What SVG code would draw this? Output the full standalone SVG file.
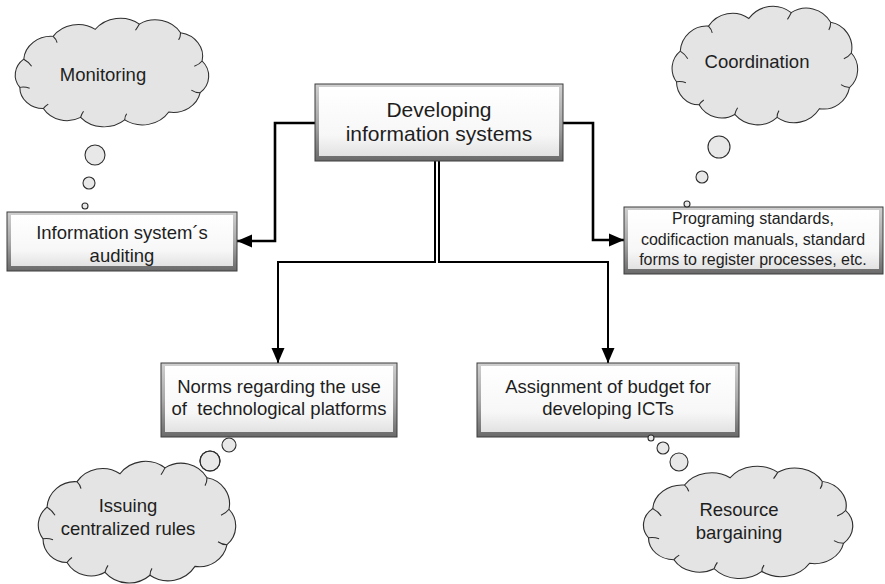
<svg xmlns="http://www.w3.org/2000/svg" xmlns:xlink="http://www.w3.org/1999/xlink" width="885" height="584" viewBox="0 0 885 584">
  <style>
    text { font-family: "Liberation Sans", Arial, sans-serif; fill: #1e1e1e; text-anchor: middle; white-space: pre; }
    .t20 { font-size: 21px; }
    .t18 { font-size: 18.5px; }
    .t16 { font-size: 16px; }
    .frame { fill: url(#bevel); stroke: #3c3c3c; stroke-width: 1; }
    .face { fill: url(#faceGrad); }
    .cloud { fill: #e4e4e4; stroke: #2e2e2e; stroke-width: 1.1; }
    .fold { fill: none; stroke: #2e2e2e; stroke-width: 1.1; }
    .bubble { fill: #e8e8e8; stroke: #2e2e2e; stroke-width: 1.1; }
    .ring { fill: none; stroke: #2e2e2e; stroke-width: 1.1; }
    .wire { fill: none; stroke: #000; stroke-width: 2.6; stroke-linejoin: miter; }
    .wire2 { fill: none; stroke: #000; stroke-width: 2; }
  </style>
  <defs>
    <linearGradient id="bevel" x1="0" y1="0" x2="0" y2="1">
      <stop offset="0" stop-color="#cfcfcf"/>
      <stop offset="0.5" stop-color="#a8a8a8"/>
      <stop offset="1" stop-color="#6a6a6a"/>
    </linearGradient>
    <linearGradient id="faceGrad" x1="0" y1="0" x2="0" y2="1">
      <stop offset="0" stop-color="#ffffff"/>
      <stop offset="0.7" stop-color="#f7f7f7"/>
      <stop offset="1" stop-color="#e2e2e2"/>
    </linearGradient>
    <marker id="arrow" markerUnits="userSpaceOnUse" markerWidth="16" markerHeight="16" viewBox="0 0 16 16" refX="15" refY="8" orient="auto">
      <path d="M0,1.5 L15,8 L0,14.5 Z" fill="#000"/>
    </marker>
    <!-- cloud outline drawn in a 200 x 125 box -->
    <path id="cloudShape" d="M8,80 A23,23 0 0 1 12,48 A28,28 0 0 1 42,22 A31,31 0 0 1 85,14 A32,32 0 0 1 130,8 A30,30 0 0 1 172,18 A27,27 0 0 1 194,50 A25,25 0 0 1 192,86 A28,28 0 0 1 160,108 A32,32 0 0 1 115,117 A32,32 0 0 1 70,114 A28,28 0 0 1 32,104 A24,24 0 0 1 8,80 Z"/>
    <path id="cloudFolds" d="M12,48 q5,3 8,8 M42,22 q3,3 4,7 M130,8 q-2,4 -4,7 M172,18 q0,5 -2,8 M194,50 q-3,4 -8,6 M192,86 q-5,0 -9,-3 M115,117 q0,-4 2,-7 M70,114 q1,-4 3,-7 M32,104 q2,-3 5,-5 M8,80 q5,-1 10,1"/>
  </defs>

  <!-- connectors -->
  <g id="connectors">
    <path class="wire" d="M315,123 H275 V241 H237" marker-end="url(#arrow)"/>
    <path class="wire" d="M563,123 H593 V240 H624" marker-end="url(#arrow)"/>
    <path class="wire2" d="M435,161 V262 H278 V363" marker-end="url(#arrow)"/>
    <path class="wire2" d="M439,161 V262 H608 V363" marker-end="url(#arrow)"/>
  </g>

  <!-- central box -->
  <g id="developing">
    <rect class="frame" x="315" y="84" width="248" height="77"/>
    <rect class="face" x="319" y="87" width="240" height="69"/>
    <text class="t20" x="439" y="117">Developing</text>
    <text class="t20" x="439" y="141">information systems</text>
  </g>

  <g id="auditing">
    <rect class="frame" x="7" y="212" width="230" height="59"/>
    <rect class="face" x="11" y="215" width="222" height="51"/>
    <text class="t18" x="122" y="238.5">Information system´s</text>
    <text class="t18" x="122" y="261.5">auditing</text>
  </g>

  <g id="standards">
    <rect class="frame" x="624" y="207" width="259" height="67"/>
    <rect class="face" x="628" y="210" width="251" height="59"/>
    <text class="t16" x="753" y="224">Programing standards,</text>
    <text class="t16" x="753" y="245">codificaction manuals, standard</text>
    <text class="t16" x="753" y="265">forms to register processes, etc.</text>
  </g>

  <g id="norms">
    <rect class="frame" x="161" y="363" width="236" height="74"/>
    <rect class="face" x="165" y="366" width="228" height="66"/>
    <text class="t18" x="279" y="392.5">Norms regarding the use</text>
    <text class="t18" x="279" y="414.5" xml:space="preserve">of  technological platforms</text>
  </g>

  <g id="budget">
    <rect class="frame" x="477" y="363" width="262" height="74"/>
    <rect class="face" x="481" y="366" width="254" height="66"/>
    <text class="t18" x="608" y="392.5">Assignment of budget for</text>
    <text class="t18" x="608" y="414.5">developing ICTs</text>
  </g>

  <!-- thought clouds -->
  <g id="monitoring">
    <g transform="translate(12,17) scale(0.98,0.88)">
      <use xlink:href="#cloudShape" class="cloud"/>
      <use xlink:href="#cloudFolds" class="fold"/>
    </g>
    <circle class="bubble" cx="95" cy="155" r="10"/>
    <circle class="bubble" cx="89" cy="183" r="6"/>
    <circle class="bubble" cx="85" cy="206" r="3"/>
    <text class="t18" x="103" y="81">Monitoring</text>
  </g>

  <g id="coordination">
    <g transform="translate(669,5) scale(0.94,0.96)">
      <use xlink:href="#cloudShape" class="cloud"/>
      <use xlink:href="#cloudFolds" class="fold"/>
    </g>
    <circle class="bubble" cx="719" cy="147" r="11"/>
    <circle class="bubble" cx="702" cy="177" r="6"/>
    <circle class="bubble" cx="687" cy="204" r="3"/>
    <text class="t18" x="757" y="68">Coordination</text>
  </g>

  <g id="issuing">
    <circle class="bubble" cx="229" cy="445" r="7"/>
    <circle class="bubble" cx="210" cy="461" r="10"/>
    <g transform="translate(35,460) scale(1,0.985)">
      <use xlink:href="#cloudShape" class="cloud"/>
      <use xlink:href="#cloudFolds" class="fold"/>
    </g>
    <circle class="ring" cx="210" cy="461" r="10"/>
    <text class="t18" x="128" y="512">Issuing</text>
    <text class="t18" x="128" y="534.5">centralized rules</text>
  </g>

  <g id="resource">
    <circle class="bubble" cx="651" cy="438" r="3"/>
    <circle class="bubble" cx="663" cy="448" r="6"/>
    <circle class="bubble" cx="679" cy="462" r="9"/>
    <g transform="translate(640,465) scale(1.06,0.91)">
      <use xlink:href="#cloudShape" class="cloud"/>
      <use xlink:href="#cloudFolds" class="fold"/>
    </g>
    <text class="t18" x="739" y="516">Resource</text>
    <text class="t18" x="739" y="539">bargaining</text>
  </g>
</svg>
